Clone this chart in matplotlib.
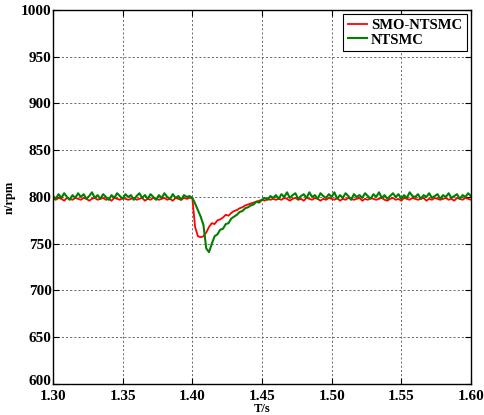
import numpy as np
import matplotlib
matplotlib.use("Agg")
import matplotlib.pyplot as plt
import matplotlib.transforms as mtransforms

# ----------------------- data ---------------------------------------------- #
t_start, t_end, n_pts = 1.30, 1.60, 151

speed_smo = [
    798, 797, 799, 798, 796, 799, 798, 797, 799, 798,
    797, 799, 798, 796, 798, 799, 797, 798, 799, 797,
    798, 796, 799, 798, 797, 799, 798, 797, 798, 799,
    797, 798, 799, 796, 798, 797, 799, 798, 797, 798,
    799, 797, 798, 796, 799, 798, 797, 799, 798, 799,
    799, 768, 758, 757, 758, 762, 768, 772, 771, 775,
    776, 778, 781, 780, 783, 785, 786, 788, 789, 791,
    792, 793, 794, 795, 796, 797, 796, 798, 797, 798, 797,
    798, 797, 799, 798, 796, 798, 799, 797, 798, 796,
    799, 798, 797, 799, 798, 796, 798, 797, 799, 798,
    797, 799, 796, 798, 797, 799, 798, 797, 798, 799,
    796, 798, 797, 799, 798, 797, 798, 799, 797, 796,
    798, 799, 797, 798, 796, 799, 798, 797, 799, 798,
    797, 798, 799, 796, 798, 797, 799, 798, 797, 798,
    799, 797, 798, 796, 799, 798, 797, 799, 798, 797,
]

speed_ntsmc = [
    801, 798, 803, 799, 804, 800, 797, 802, 799, 804,
    800, 803, 798, 801, 805, 799, 802, 798, 803, 800,
    797, 802, 799, 804, 801, 798, 803, 800, 802, 797,
    801, 804, 799, 802, 798, 803, 800, 797, 802, 799,
    804, 800, 798, 803, 799, 801, 797, 802, 800, 801,
    799, 793, 786, 779, 770, 745, 741, 750, 758, 760,
    765, 766, 771, 772, 777, 779, 781, 784, 785, 788,
    789, 791, 792, 795, 794, 797, 799, 797, 801, 799, 802,
    798, 803, 800, 805, 799, 802, 804, 798, 801, 803,
    799, 805, 800, 802, 798, 804, 801, 799, 803, 800,
    805, 798, 802, 799, 804, 801, 797, 803, 800, 802,
    799, 804, 801, 798, 803, 800, 805, 799, 802, 798,
    801, 804, 800, 803, 798, 802, 799, 805, 801, 800,
    803, 798, 802, 800, 804, 799, 801, 803, 798, 802,
    800, 804, 799, 801, 803, 798, 802, 800, 804, 801,
]

x_ticks = [1.30, 1.35, 1.40, 1.45, 1.50, 1.55, 1.60]
y_ticks = [600, 650, 700, 750, 800, 850, 900, 950, 1000]

#-----------------------------------------------------------------------------#

plt.rcParams['font.family'] = ['Liberation Serif', 'DejaVu Serif']
plt.rcParams['font.weight'] = 'bold'

t = np.linspace(t_start, t_end, n_pts)

fig = plt.figure(figsize=(4.84, 4.15), dpi=100)
ax = fig.add_axes([0.1095, 0.0747, 0.8635, 0.9013])

ax.plot(t, speed_smo, color='#ff0000', lw=1.3, label='SMO-NTSMC')
ax.plot(t, speed_ntsmc, color='#008000', lw=1.5, label='NTSMC')

ax.set_xlim(t_start, t_end)
ax.set_ylim(600, 1000)
ax.set_xticks(x_ticks)
ax.set_xticklabels(["%.2f" % v for v in x_ticks])
ax.set_yticks(y_ticks)

ax.grid(True, color='#555555', linestyle=(0, (2.5, 2.5)), lw=0.6)
ax.tick_params(direction='in', top=True, right=True, length=4,
               labelsize=11, pad=1)
ax.tick_params(axis='x', pad=4)
for lbl in ax.get_xticklabels() + ax.get_yticklabels():
    lbl.set_fontweight('bold')
for sp in ax.spines.values():
    sp.set_linewidth(1.0)

# lift the bottom y label a little so it clears the first x label
ylbl = ax.get_yticklabels()[0]
ylbl.set_transform(ylbl.get_transform() +
                   mtransforms.ScaledTranslation(0, 3 / 72, fig.dpi_scale_trans))

ax.set_xlabel('T/s', fontsize=9, fontweight='bold', labelpad=0)
ax.set_ylabel('n/rpm', fontsize=9, fontweight='bold', labelpad=4)

leg = ax.legend(loc='upper right', fontsize=10.5, handlelength=1.3,
                handletextpad=0.3, borderaxespad=0.3, borderpad=0.3,
                labelspacing=0.1, fancybox=False, framealpha=1)
leg.get_frame().set_edgecolor('black')
leg.get_frame().set_linewidth(0.8)
for txt in leg.get_texts():
    txt.set_fontweight('bold')

fig.savefig('out.png', dpi=100)
